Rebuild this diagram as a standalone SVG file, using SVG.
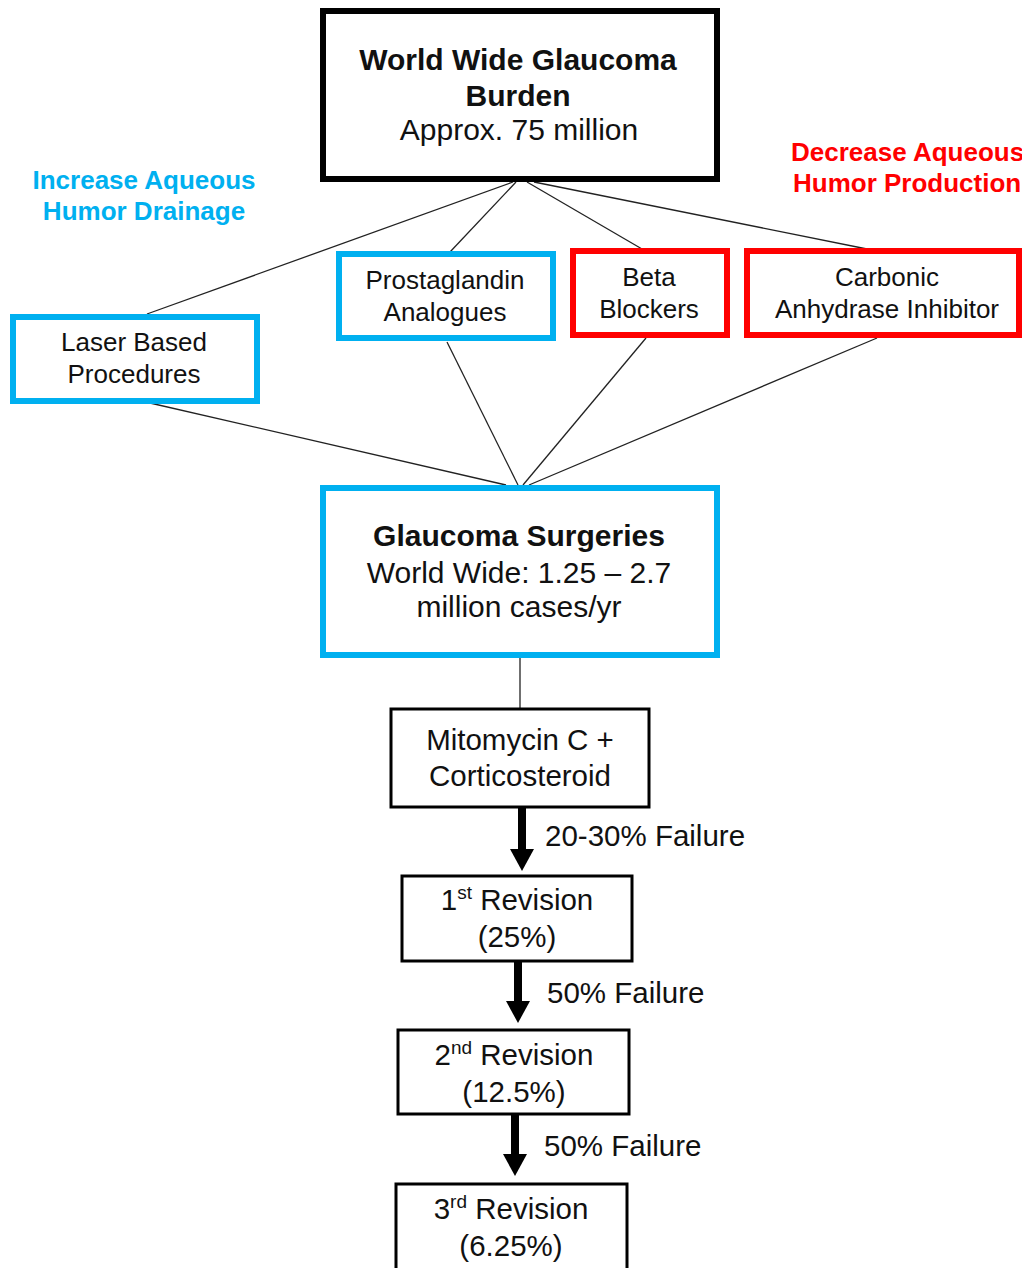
<svg xmlns="http://www.w3.org/2000/svg" width="1022" height="1268" viewBox="0 0 1022 1268">
<style>
text{font-family:"Liberation Sans",Arial,sans-serif;fill:#111}
.c{text-anchor:middle}
.b{font-weight:bold}
.s{font-size:26px}
.m{font-size:29.5px}
.blue{fill:none;stroke:#00B0F0;stroke-width:6}
.red{fill:none;stroke:#FF0000;stroke-width:6}
.blk{fill:#fff;stroke:#000;stroke-width:3}
.thin{stroke:#222;stroke-width:1.3;fill:none}
.arr{stroke:#000;stroke-width:8;marker-end:url(#ah)}
</style>
<defs>
<marker id="ah" viewBox="0 0 22 24" refX="0" refY="12" markerWidth="22" markerHeight="24" markerUnits="userSpaceOnUse" orient="auto">
<path d="M0,0 L22,12 L0,24 z" fill="#000"/>
</marker>
</defs>
<rect width="1022" height="1268" fill="#fff"/>
<g id="connectors">
<line class="thin" x1="513" y1="182" x2="147" y2="314"/>
<line class="thin" x1="516" y1="182" x2="450" y2="252"/>
<line class="thin" x1="527" y1="182" x2="642" y2="249"/>
<line class="thin" x1="534" y1="182" x2="867" y2="249"/>
<line class="thin" x1="150" y1="403" x2="506" y2="485"/>
<line class="thin" x1="447" y1="342" x2="518" y2="485"/>
<line class="thin" x1="646" y1="338" x2="523" y2="485"/>
<line class="thin" x1="877" y1="338" x2="529" y2="485"/>
<line class="thin" x1="520" y1="658" x2="520" y2="709"/>
<line class="arr" x1="522" y1="808" x2="522" y2="849"/>
<line class="arr" x1="518" y1="962" x2="518" y2="1001"/>
<line class="arr" x1="515" y1="1115" x2="515" y2="1154"/>
</g>
<g id="burden">
<rect x="323" y="11" width="394" height="168" fill="#fff" stroke="#000" stroke-width="6"/>
<text class="c b" x="518" y="70" font-size="30">World Wide Glaucoma</text>
<text class="c b" x="518" y="106" font-size="30">Burden</text>
<text class="c" x="519" y="140" font-size="30">Approx. 75 million</text>
</g>
<g id="label-increase">
<text class="c b s" x="144" y="189" style="fill:#00B0F0">Increase  Aqueous</text>
<text class="c b s" x="144" y="220" style="fill:#00B0F0">Humor Drainage</text>
</g>
<g id="label-decrease">
<text class="b s" x="791" y="161" style="fill:#FF0000">Decrease  Aqueous</text>
<text class="b s" x="793" y="192" style="fill:#FF0000">Humor Production</text>
</g>
<g id="laser">
<rect class="blue" x="13" y="317" width="244" height="84" fill="#fff"/>
<text class="c s" x="134" y="351">Laser Based</text>
<text class="c s" x="134" y="383">Procedures</text>
</g>
<g id="prostaglandin">
<rect class="blue" x="339" y="254" width="214" height="84"/>
<text class="c s" x="445" y="289">Prostaglandin</text>
<text class="c s" x="445" y="321">Analogues</text>
</g>
<g id="beta">
<rect class="red" x="573" y="251" width="154" height="84"/>
<text class="c s" x="649" y="286">Beta</text>
<text class="c s" x="649" y="318">Blockers</text>
</g>
<g id="carbonic">
<rect class="red" x="747" y="251" width="272" height="84"/>
<text class="c s" x="887" y="286">Carbonic</text>
<text class="c s" x="887" y="318">Anhydrase Inhibitor</text>
</g>
<g id="surgeries">
<rect class="blue" x="323" y="488" width="394" height="167" fill="#fff"/>
<text class="c b" x="519" y="546" font-size="30">Glaucoma Surgeries</text>
<text class="c" x="519" y="583" font-size="30">World Wide: 1.25 – 2.7</text>
<text class="c" x="519" y="617" font-size="30">million cases/yr</text>
</g>
<g id="mitomycin">
<rect class="blk" x="391" y="709" width="258" height="98"/>
<text class="c m" x="520" y="750">Mitomycin C +</text>
<text class="c m" x="520" y="786">Corticosteroid</text>
</g>
<text class="m" x="545" y="846">20-30% Failure</text>
<g id="rev1">
<rect class="blk" x="402" y="876" width="230" height="85"/>
<text class="c m" x="517" y="910">1<tspan font-size="19" dy="-11">st</tspan><tspan dy="11"> Revision</tspan></text>
<text class="c m" x="517" y="947">(25%)</text>
</g>
<text class="m" x="547" y="1003">50% Failure</text>
<g id="rev2">
<rect class="blk" x="398" y="1030" width="231" height="84"/>
<text class="c m" x="514" y="1065">2<tspan font-size="19" dy="-11">nd</tspan><tspan dy="11"> Revision</tspan></text>
<text class="c m" x="514" y="1102">(12.5%)</text>
</g>
<text class="m" x="544" y="1156">50% Failure</text>
<g id="rev3">
<rect class="blk" x="396" y="1184" width="231" height="100"/>
<text class="c m" x="511" y="1219">3<tspan font-size="19" dy="-11">rd</tspan><tspan dy="11"> Revision</tspan></text>
<text class="c m" x="511" y="1256">(6.25%)</text>
</g>
</svg>
